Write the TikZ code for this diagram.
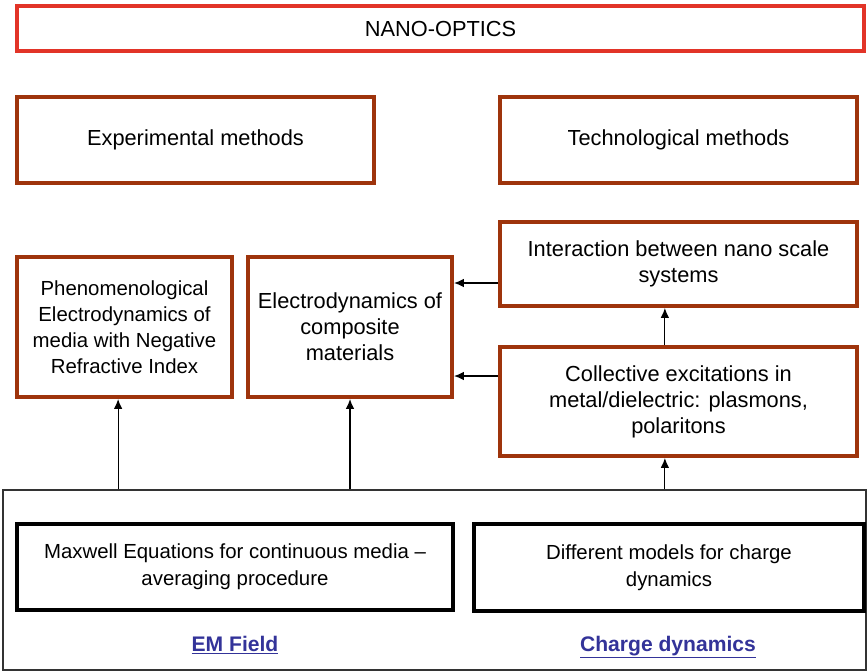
\documentclass[tikz,border=0pt]{standalone}
\usepackage{fontspec}
\setmainfont{Liberation Sans}
\usetikzlibrary{arrows.meta,positioning}
\definecolor{titlered}{RGB}{226,52,40}
\definecolor{boxbrown}{RGB}{158,52,12}
\definecolor{linkblue}{RGB}{51,51,153}
\tikzset{
every picture/.style={
line width=0.8pt
}}

\begin{document}
\begin{tikzpicture}[x=0.025cm, y=-0.025cm,
font=\fontsize{15.5}{18.5}\selectfont,
topbox/.style = {rectangle, draw=titlered, line width=2.4pt, align=center},
block/.style = {rectangle, draw=boxbrown, line width=2.8pt, align=center},
basebox/.style = {rectangle, draw=black, line width=3.2pt, align=center, font=\fontsize{14.5}{19}\selectfont},
frame/.style = {rectangle, draw=black!80, line width=1pt},
link/.style = {text=linkblue, anchor=base, font=\fontsize{15}{18}\selectfont\bfseries},
arr/.style = {-{Latex[length=7pt,width=6pt]}, line width=0.8pt}]

\useasboundingbox (0,0) rectangle (867,671);

\node [topbox, minimum width=21.175cm, minimum height=1.125cm] at (440.5,28.5) (nano) {NANO-OPTICS};

\node [block, minimum width=8.925cm, minimum height=2.15cm] at (195.5,140) (exp) {Experimental methods};
\node [block, minimum width=8.925cm, minimum height=2.15cm] at (678.5,140) (tech) {Technological methods};

\node [block, minimum width=5.375cm, minimum height=3.5cm, font=\fontsize{14.5}{18.5}\selectfont] at (124.5,327) (phen) {Phenomenological\\Electrodynamics of\\media with Negative\\Refractive Index};
\node [block, minimum width=5.1cm, minimum height=3.5cm] at (350,327) (comp) {Electrodynamics of\\composite\\materials};
\node [block, minimum width=8.925cm, minimum height=2.1cm] at (678.5,264) (inter) {Interaction between nano scale\\systems};
\node [block, minimum width=8.925cm, minimum height=2.725cm] at (678.5,401.5) (coll) {Collective excitations in\\metal/dielectric: plasmons,\\polaritons};

\node [frame, minimum width=21.575cm, minimum height=4.5cm] at (434.5,580) (base) {};
\node [basebox, minimum width=10.9cm, minimum height=2.15cm] at (235,567) (maxw) {Maxwell Equations for continuous media --\\averaging procedure};
\node [basebox, minimum width=9.75cm, minimum height=2.175cm] at (669,567.5) (diff) {Different models for charge\\dynamics};
\node [link] at (235,651) (em) {\underline{EM Field}};
\node [link] at (668,651) (cd) {\underline{Charge dynamics}};

\draw[arr] ([xshift=-0.16cm]phen.south |- base.north) -- ([xshift=-0.16cm]phen.south);
\draw[arr] (comp.south |- base.north) -- (comp.south);
\draw[arr] ([xshift=-0.34cm]coll.south |- base.north) -- ([xshift=-0.34cm]coll.south);
\draw[arr] ([xshift=-0.34cm]coll.north) -- ([xshift=-0.34cm]inter.south);
\draw[arr] (inter.west |- 0,283) -- (comp.east |- 0,283);
\draw[arr] (coll.west |- 0,376) -- (comp.east |- 0,376);

\end{tikzpicture}
\end{document}
